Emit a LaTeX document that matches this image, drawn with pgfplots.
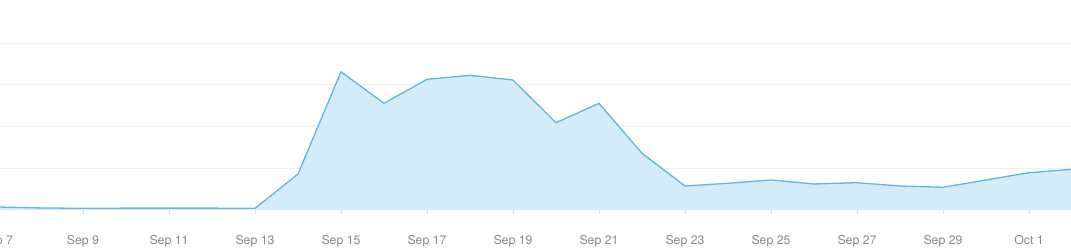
\documentclass[border=0pt]{standalone}
\usepackage{pgfplots}
\pgfplotsset{compat=1.18}
\usepackage{fontspec}
\setmainfont{TeX Gyre Heros}
\definecolor{linec}{RGB}{95,183,218}
\definecolor{fillc}{RGB}{212,236,250}
\definecolor{labc}{RGB}{135,135,135}
\definecolor{gridc}{RGB}{240,240,240}
\definecolor{basec}{RGB}{215,222,228}
\begin{document}
\begin{tikzpicture}
\useasboundingbox (0,-42bp) rectangle (1071bp,210bp);
\begin{axis}[
  at={(-3bp,0)}, anchor=south west,
  scale only axis, width=1075bp, height=210bp,
  xmin=0, xmax=25, ymin=0, ymax=5.03,
  axis line style={draw=none},
  ytick={1,2,3,4}, yticklabels={}, major y tick style={draw=none},
  ymajorgrids, major grid style={gridc, line width=0.8bp},
  xtick={0,2,4,6,8,10,12,14,16,18,20,22,24},
  xticklabels={Sep 7,Sep 9,Sep 11,Sep 13,Sep 15,Sep 17,Sep 19,Sep 21,Sep 23,Sep 25,Sep 27,Sep 29,Oct 1},
  xtick align=outside, major tick length=4bp,
  x tick style={basec, line width=0.8bp},
  xticklabel style={anchor=base, yshift=-30.5bp, font=\fontsize{12.3bp}{14bp}\selectfont, text=labc},
  clip=true,
]
\addplot[draw=none, fill=fillc] coordinates {
(0,0.072) (1,0.05) (2,0.04) (3,0.045) (4,0.045) (5,0.045) (6,0.04)
(7,0.862) (8,3.31) (9,2.556) (10,3.13) (11,3.226) (12,3.114) (13,2.09)
(14,2.556) (15,1.358) (16,0.575) (17,0.64) (18,0.719) (19,0.623) (20,0.654)
(21,0.575) (22,0.544) (23,0.719) (24,0.893) (25,0.975)
} \closedcycle;
\addplot[basec, line width=1bp] coordinates {(0,0) (25,0)};
\addplot[linec, line width=1.3bp] coordinates {
(0,0.072) (1,0.05) (2,0.04) (3,0.045) (4,0.045) (5,0.045) (6,0.04)
(7,0.862) (8,3.31) (9,2.556) (10,3.13) (11,3.226) (12,3.114) (13,2.09)
(14,2.556) (15,1.358) (16,0.575) (17,0.64) (18,0.719) (19,0.623) (20,0.654)
(21,0.575) (22,0.544) (23,0.719) (24,0.893) (25,0.975)
};
\end{axis}
\end{tikzpicture}
\end{document}
